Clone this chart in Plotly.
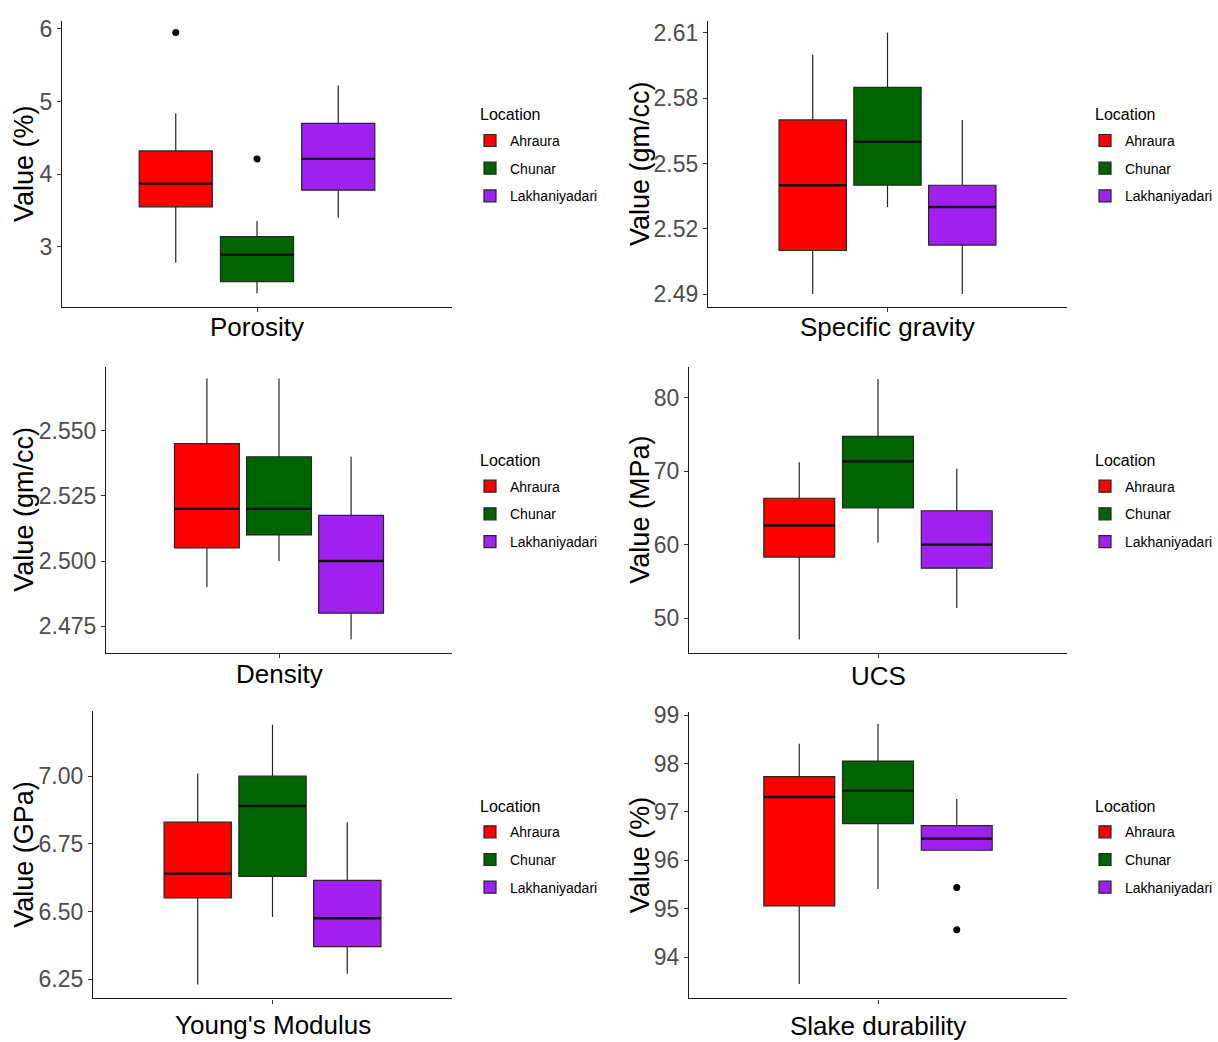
import plotly.graph_objects as go

W, H = 1218, 1042

# ---------------- data ----------------
properties = ["Porosity", "Specific gravity", "Density", "UCS", "Young's Modulus", "Slake durability"]
y_titles = ["Value (%)", "Value (gm/cc)", "Value (gm/cc)", "Value (MPa)", "Value (GPa)", "Value (%)"]
locations = ["Ahraura", "Chunar", "Lakhaniyadari"]
legend_title = "Location"

lower_whisker = [[2.78, 2.36, 3.40], [2.49, 2.53, 2.49], [2.49, 2.50, 2.47],
                 [47.1, 60.3, 51.4], [6.23, 6.48, 6.27], [93.45, 95.41, 96.21]]
q1_values = [[3.55, 2.52, 3.78], [2.51, 2.54, 2.5125], [2.505, 2.51, 2.48],
             [58.3, 65.0, 56.8], [6.55, 6.63, 6.37], [95.06, 96.76, 96.21]]
median_values = [[3.87, 2.89, 4.21], [2.54, 2.56, 2.53], [2.52, 2.52, 2.50],
                 [62.6, 71.3, 60.0], [6.64, 6.89, 6.475], [97.31, 97.44, 96.45]]
q3_values = [[4.32, 3.14, 4.70], [2.57, 2.585, 2.54], [2.545, 2.54, 2.5175],
             [66.3, 74.7, 64.6], [6.83, 7.00, 6.615], [97.73, 98.05, 96.72]]
upper_whisker = [[4.84, 3.355, 5.22], [2.60, 2.61, 2.57], [2.57, 2.57, 2.54],
                 [71.2, 82.5, 70.3], [7.01, 7.19, 6.83], [98.41, 98.82, 97.27]]
outlier_values = [[[5.95], [4.21], []], [[], [], []], [[], [], []],
                  [[], [], []], [[], [], []], [[], [], [95.44, 94.57]]]

y_tickvals = [[3, 4, 5, 6], [2.49, 2.52, 2.55, 2.58, 2.61], [2.475, 2.5, 2.525, 2.55],
              [50, 60, 70, 80], [6.25, 6.5, 6.75, 7.0], [94, 95, 96, 97, 98, 99]]
y_tickformats = ["", ".2f", ".3f", "", ".2f", ""]

# ---------------- style / layout ----------------
fill_colors = ["#FF0000", "#006400", "#A020F0"]
y_ranges = [[2.17, 6.11], [2.484, 2.6155], [2.4648, 2.5746],
            [45.3, 84.2], [6.179, 7.24], [93.15, 99.06]]
# plot areas in pixels: (left, right, top, bottom)
plot_px = [(62, 452, 11, 300), (708, 1067, 11, 300), (106, 452, 360, 649),
           (689, 1067, 360, 649), (93, 452, 708, 998), (689, 1067, 709, 998)]
xtitle_offset_px = [20, 20, 21, 23, 27, 28]
legend_title_px = [(478, 106), (1093, 106), (478, 455), (1093, 455), (478, 804), (1093, 804)]
legend_items_top_px = [116, 116, 465, 465, 814, 814]
ytitle_x_px = [24, 640, 24, 640, 24, 640]

FONT = "Liberation Sans, Arial, sans-serif"


def px_x(v):
    return v / W


def px_y(v):
    return 1 - v / H


fig = go.Figure()
layout = dict(
    width=W, height=H,
    margin=dict(l=0, r=0, t=0, b=0),
    paper_bgcolor="white", plot_bgcolor="white",
    font=dict(family=FONT, color="black"),
    boxmode="group", boxgap=0.25, boxgroupgap=0.1,
    showlegend=True,
)
annotations = []

for p in range(6):
    suffix = "" if p == 0 else str(p + 1)
    xa, ya = "x" + suffix, "y" + suffix
    leg = "legend" + suffix
    for l in range(3):
        pts = outlier_values[p][l]
        kwargs = dict(
            x=[properties[p]],
            q1=[q1_values[p][l]], median=[median_values[p][l]], q3=[q3_values[p][l]],
            lowerfence=[lower_whisker[p][l]], upperfence=[upper_whisker[p][l]],
            name=locations[l], orientation="v",
            fillcolor=fill_colors[l],
            line=dict(color="#262626", width=1.2),
            whiskerwidth=0,
            marker=dict(color="black", size=7, line=dict(width=0)),
            xaxis=xa, yaxis=ya, legend=leg,
            legendgroup=f"g{p}_{l}",
            alignmentgroup=f"panel{p}", offsetgroup=locations[l],
            hoverinfo="skip",
        )
        if pts:
            kwargs.update(y=[pts], boxpoints="outliers", jitter=0, pointpos=0)
        else:
            kwargs.update(boxpoints=False)
        fig.add_trace(go.Box(**kwargs))
        # thicker median line (ggplot's fattened median)
        fig.add_trace(go.Box(
            x=[properties[p]],
            q1=[median_values[p][l]], median=[median_values[p][l]], q3=[median_values[p][l]],
            lowerfence=[median_values[p][l]], upperfence=[median_values[p][l]],
            name=locations[l], orientation="v", boxpoints=False,
            fillcolor="rgba(0,0,0,0)",
            line=dict(color="#111111", width=2.4),
            whiskerwidth=0,
            xaxis=xa, yaxis=ya, legend=leg, showlegend=False,
            legendgroup=f"g{p}_{l}",
            alignmentgroup=f"panel{p}", offsetgroup=locations[l],
            hoverinfo="skip",
        ))

    left, right, top, bottom = plot_px[p]
    layout["xaxis" + suffix] = dict(
        domain=[px_x(left), px_x(right)], anchor=ya,
        type="category", range=[-0.6, 0.6],
        showline=True, linecolor="#1a1a1a", linewidth=1.2,
        ticks="outside", ticklen=4, tickcolor="#333333", showticklabels=False,
        showgrid=False, zeroline=False, fixedrange=True,
    )
    layout["yaxis" + suffix] = dict(
        domain=[px_y(bottom), px_y(top)], anchor=xa,
        range=y_ranges[p], tickvals=y_tickvals[p], tickformat=y_tickformats[p],
        showline=True, linecolor="#1a1a1a", linewidth=1.2,
        ticks="outside", ticklen=4, tickcolor="#333333",
        tickfont=dict(size=23, color="#4D4D4D", family=FONT),
        showgrid=False, zeroline=False, fixedrange=True,
    )
    tx, ty = legend_title_px[p]
    layout[leg] = dict(
        x=px_x(tx - 8), y=px_y(legend_items_top_px[p]), xanchor="left", yanchor="top",
        xref="paper", yref="paper",
        font=dict(size=14, color="black", family=FONT),
        bgcolor="rgba(0,0,0,0)", tracegroupgap=6.5,
    )
    annotations.append(dict(
        text=legend_title, x=px_x(tx), y=px_y(ty),
        xref="paper", yref="paper", showarrow=False,
        xanchor="left", yanchor="middle",
        font=dict(size=16, color="black", family=FONT),
    ))
    annotations.append(dict(
        text=y_titles[p], x=px_x(ytitle_x_px[p]), y=px_y((top + bottom) / 2),
        xref="paper", yref="paper", showarrow=False, textangle=-90,
        xanchor="center", yanchor="middle",
        font=dict(size=27, color="black", family=FONT),
    ))
    annotations.append(dict(
        text=properties[p], x=px_x((left + right) / 2), y=px_y(bottom + xtitle_offset_px[p]),
        xref="paper", yref="paper", showarrow=False,
        xanchor="center", yanchor="middle",
        font=dict(size=26, color="black", family=FONT),
    ))

layout["annotations"] = annotations
fig.update_layout(**layout)
fig.write_html("out.html")
